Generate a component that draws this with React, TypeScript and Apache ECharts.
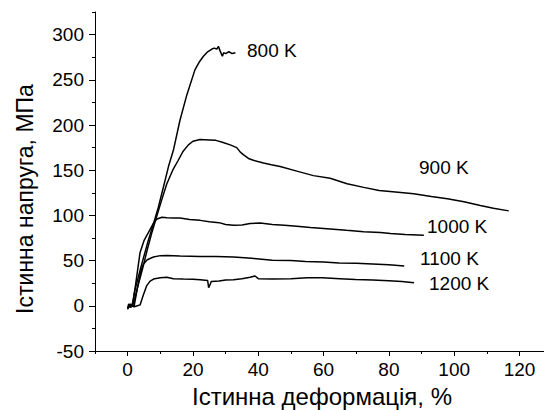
import React, { useEffect, useRef } from "react";
import * as echarts from "echarts";

const xMajorTicks = [0, 20, 40, 60, 80, 100, 120];
const xMinorTicks = [-10, 10, 30, 50, 70, 90, 110];
const yMajorTicks = [-50, 0, 50, 100, 150, 200, 250, 300];
const yMinorTicks = [-25, 25, 75, 125, 175, 225, 275, 325];

const curveLabels = ["800 K", "900 K", "1000 K", "1100 K", "1200 K"];

const s800: number[][] = [[0,-4],[0.3,2],[1,-2],[1.5,3],[2.2,17],[4,42],[6.3,72],[8,92],[9.4,109],[11,132],[12.5,154],[14,172],[16,205],[18.1,233],[20.6,261],[22,270],[23.2,276],[24.5,281],[25.8,284],[26.5,285],[27.3,284],[27.8,287],[28.3,282],[29,276],[29.4,280],[30,279],[31,281],[32,279],[33,280]];
const s900: number[][] = [[0,-3],[0.5,1],[1.2,-1],[2,5],[3,20],[4.5,40],[6,62],[7.5,82],[9,100],[10.5,118],[12,135],[13.8,150],[15.5,161],[17,171],[18.6,178],[20,182],[22.2,184],[25,183.5],[27,183],[29,181],[31.4,178],[33.4,175],[34.5,170],[35.5,167],[37,163],[38.5,161],[41.6,158],[44,156],[46.7,154],[51.8,149],[56.9,144],[62,141],[67.2,135],[72.3,131],[77,127.5],[82,126],[87.6,124],[93,121],[97.9,118.5],[103,115],[108,111],[112,108],[116.7,105]];
const s1000: number[][] = [[0,-2],[0.8,2],[1.5,0],[2.5,25],[3.8,59],[5,72],[6.8,84],[8,92],[9,96],[10.5,98],[12,97.5],[14,97],[16,97],[19,95.5],[22.2,94.5],[25,93],[28,92],[30,90],[32.4,89],[35,89.5],[37.5,91],[40.6,91.5],[44.3,90],[48,89],[51.8,88],[56,86.5],[62,85],[67,83.5],[72.3,82],[77.4,81],[80.5,80],[85,79],[90.7,78]];
const s1100: number[][] = [[0,-3],[1,1],[2,0],[3,20],[4,38],[4.8,46],[6,51],[7.9,54],[10,55.5],[12,55.6],[16,55],[22.2,54.4],[27,54.5],[32.4,54],[38,52.5],[44.3,50.5],[50,50],[54.5,49],[60,48.5],[64.7,47.4],[70,47],[75,46.3],[80,45.5],[84.7,44]];
const s1200: number[][] = [[0,-2],[1,0],[2,-1],[3,0],[3.8,1],[4.8,12],[5.8,22],[6.8,27],[7.9,29.6],[10,31],[12,31.5],[14,30],[17,29.6],[20,29.5],[22.2,28.9],[24.5,28],[24.8,20],[25.3,24],[25.6,27],[28,27.5],[30,28.5],[32.4,28.9],[35,30],[37.5,31.5],[39,33],[40,30],[44.3,29.6],[50,30],[55,31],[59.6,31],[65,30],[69.8,29],[75,28.5],[80,27.8],[84,27],[87.7,25.5]];

const seriesData = [s800, s900, s1000, s1100, s1200];

const FONT = "'Liberation Sans', Arial, sans-serif";

export default function App() {
  const ref = useRef<HTMLDivElement>(null);
  useEffect(() => {
    if (!ref.current) return;
    const chart = echarts.init(ref.current, null, { renderer: "svg" });
    const labelPos = [
      [247, 50], [419, 167], [427, 226], [420, 258], [429, 283],
    ];
    const axisCommon = {
      type: "value" as const,
      splitLine: { show: false },
    };
    chart.setOption({
      animation: false,
      backgroundColor: "#ffffff",
      grid: { left: 95, right: 0, top: 12, bottom: 59, containLabel: false },
      xAxis: [
        {
          ...axisCommon,
          min: -10,
          max: 127.5,
          position: "bottom",
          axisLine: { show: true, onZero: false, lineStyle: { color: "#000", width: 1 } },
          axisTick: { show: true, inside: false, length: 5, customValues: xMajorTicks, lineStyle: { color: "#000" } },
          axisLabel: { customValues: xMajorTicks, color: "#000", fontSize: 19, fontFamily: FONT, margin: 9 },
        },
        {
          ...axisCommon,
          min: -10,
          max: 127.5,
          position: "bottom",
          axisLine: { show: false, onZero: false },
          axisTick: { show: true, inside: false, length: 3, customValues: xMinorTicks, lineStyle: { color: "#000" } },
          axisLabel: { show: false },
        },
      ],
      yAxis: [
        {
          ...axisCommon,
          min: -50,
          max: 325,
          position: "left",
          axisLine: { show: true, onZero: false, lineStyle: { color: "#000", width: 1 } },
          axisTick: { show: true, inside: false, length: 6, customValues: yMajorTicks, lineStyle: { color: "#000" } },
          axisLabel: { customValues: yMajorTicks, color: "#000", fontSize: 19, fontFamily: FONT, margin: 11 },
        },
        {
          ...axisCommon,
          min: -50,
          max: 325,
          position: "left",
          axisLine: { show: false, onZero: false },
          axisTick: { show: true, inside: false, length: 3, customValues: yMinorTicks, lineStyle: { color: "#000" } },
          axisLabel: { show: false },
        },
      ],
      series: seriesData.map((d, i) => ({
        type: "line",
        name: curveLabels[i],
        xAxisIndex: 0,
        yAxisIndex: 0,
        data: d,
        showSymbol: false,
        symbol: "none",
        lineStyle: { color: "#000", width: 1.5 },
        itemStyle: { color: "#000" },
        z: 3,
      })),
      graphic: [
        ...curveLabels.map((t, i) => ({
          type: "text",
          x: labelPos[i][0],
          y: labelPos[i][1],
          style: { text: t, fill: "#000", font: `19px ${FONT}`, textAlign: "left", textVerticalAlign: "middle" },
        })),
        {
          type: "text",
          x: 322,
          y: 396,
          style: { text: "Істинна деформація, %", fill: "#000", font: `24px ${FONT}`, textAlign: "center", textVerticalAlign: "middle" },
        },
        {
          type: "text",
          x: 25,
          y: 199,
          rotation: Math.PI / 2,
          style: { text: "Істинна напруга, МПа", fill: "#000", font: `23px ${FONT}`, textAlign: "center", textVerticalAlign: "middle" },
        },
      ],
    });
    return () => chart.dispose();
  }, []);
  return <div ref={ref} style={{ width: 544, height: 410, position: "absolute", left: 0, top: 0 }} />;
}
